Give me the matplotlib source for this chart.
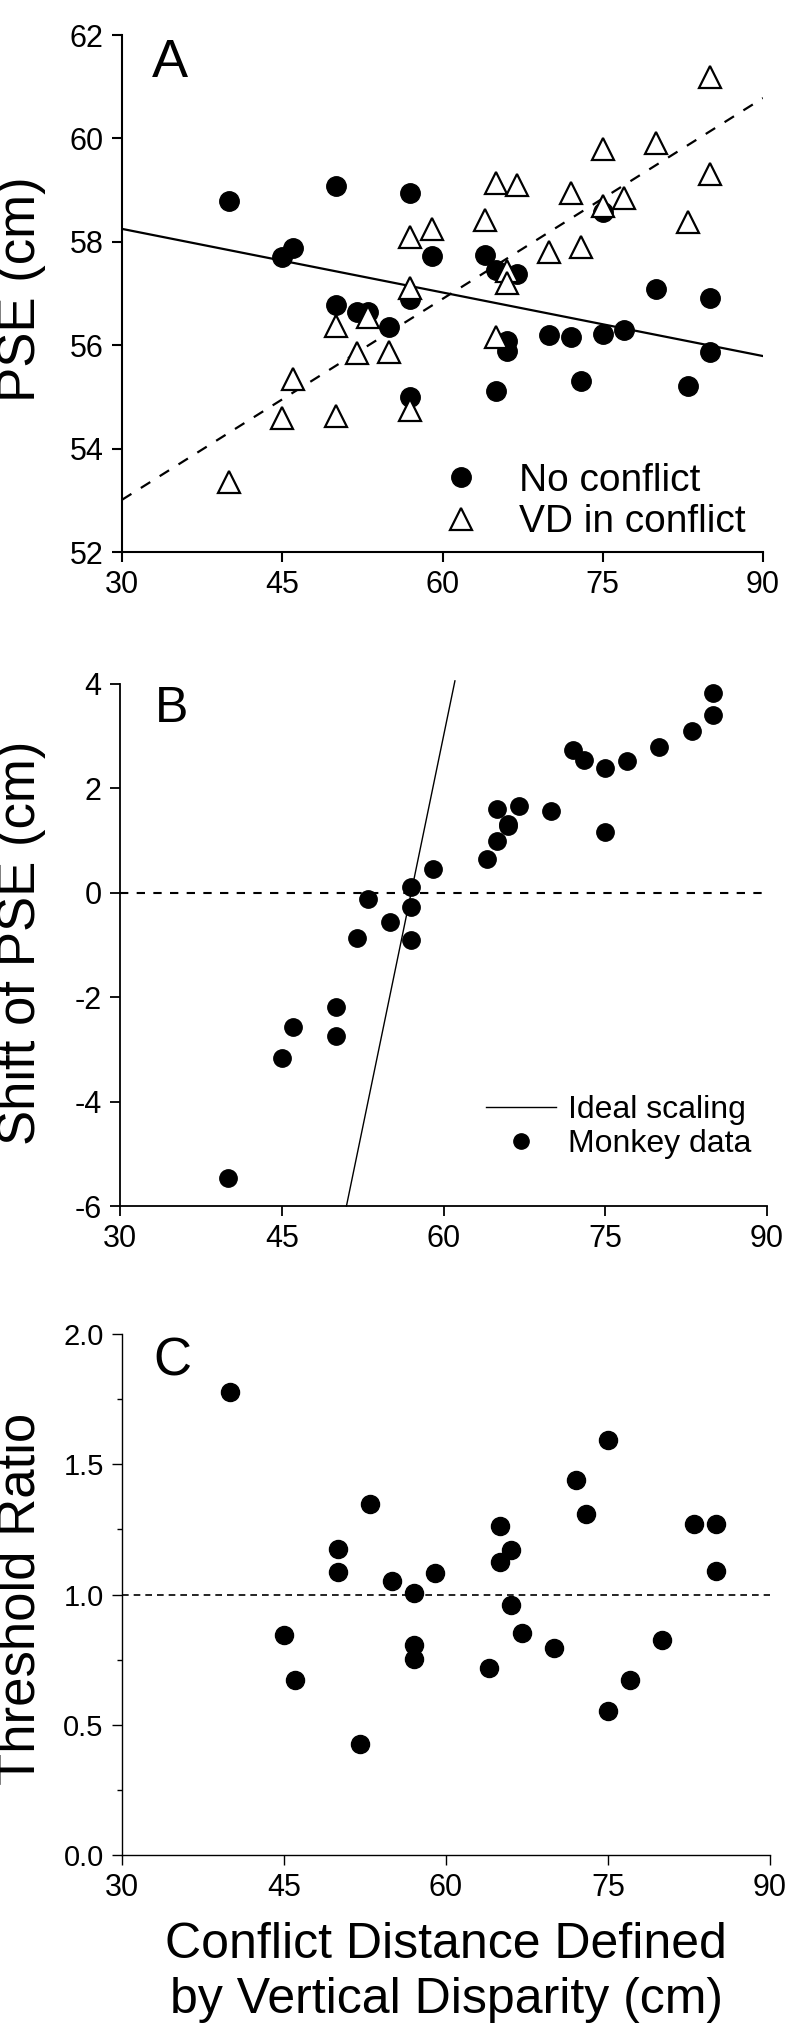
import numpy as np
import matplotlib
matplotlib.use('Agg')
import matplotlib.pyplot as plt
from matplotlib.lines import Line2D
from matplotlib.ticker import MultipleLocator

plt.rcParams['font.family'] = ['Liberation Sans', 'DejaVu Sans']
plt.rcParams['axes.unicode_minus'] = False

# ---------------- Panel A: PSE ----------------
nc_x = [40, 45, 46, 50, 50, 52, 53, 55, 57, 57, 57, 59, 64, 65, 65, 66, 66, 67,
        70, 72, 73, 75, 75, 77, 80, 83, 85, 85]
nc_pse = [58.79, 57.70, 57.88, 59.07, 56.78, 56.64, 56.64, 56.35, 58.95, 56.90,
          55.00, 57.72, 57.74, 57.45, 55.11, 56.09, 55.88, 57.38, 56.19, 56.16,
          55.30, 58.58, 56.22, 56.29, 57.08, 55.22, 56.92, 55.87]
vd_x = [40, 45, 46, 50, 50, 52, 53, 55, 57, 57, 57, 59, 64, 65, 65, 66, 66, 67,
        70, 72, 73, 75, 75, 77, 80, 83, 85, 85]
vd_pse = [53.35, 54.60, 55.34, 54.63, 56.37, 55.85, 56.54, 55.87, 54.75, 57.10,
          58.09, 58.24, 58.43, 59.14, 56.16, 57.44, 57.21, 59.10, 57.81, 58.94,
          57.90, 59.79, 58.70, 58.85, 59.92, 58.38, 61.18, 59.31]
nc_fit_slope, nc_fit_intercept = -0.0410, 59.48
vd_fit_slope, vd_fit_intercept = 0.1295, 49.125

# ---------------- Panel B: shift of PSE ----------------
shift_x = [40, 45, 46, 50, 50, 52, 53, 55, 57, 57, 57, 59, 64, 65, 65, 66, 66, 67,
           70, 72, 73, 75, 75, 77, 80, 83, 85, 85]
shift_y = [-5.46, -3.17, -2.58, -2.18, -2.75, -0.86, -0.12, -0.55, 0.12, -0.28,
           -0.90, 0.45, 0.64, 1.00, 1.61, 1.28, 1.32, 1.67, 1.56, 2.73, 2.55,
           2.40, 1.17, 2.52, 2.80, 3.10, 3.82, 3.40]
ideal_zero_x = 57.0      # conflict distance with zero shift
ideal_slope = 1.0
ideal_y_range = [-6.0, 4.06]

# ---------------- Panel C: threshold ratio ----------------
ratio_x = [40, 45, 46, 50, 50, 52, 53, 55, 57, 57, 57, 59, 64, 65, 65, 66, 66, 67,
           70, 72, 73, 75, 75, 77, 80, 83, 85, 85]
ratio_y = [1.776, 0.843, 0.670, 1.173, 1.086, 0.426, 1.348, 1.051, 1.006, 0.807,
           0.754, 1.083, 0.719, 1.263, 1.126, 1.171, 0.959, 0.851, 0.794, 1.438,
           1.308, 1.595, 0.554, 0.670, 0.825, 1.271, 1.271, 1.090]

x_ticks = [30, 45, 60, 75, 90]

W, H = 800, 2042
fig = plt.figure(figsize=(W / 100, H / 100), dpi=100)


def ax_rect(x0, x1, y0, y1):
    return [x0 / W, 1 - y1 / H, (x1 - x0) / W, (y1 - y0) / H]


axA = fig.add_axes(ax_rect(122, 763, 35, 552))
axB = fig.add_axes(ax_rect(120, 767, 684, 1206))
axC = fig.add_axes(ax_rect(122, 770, 1334, 1855))

for ax, lw in ((axA, 1.5), (axB, 1.3), (axC, 1.0)):
    ax.spines['top'].set_visible(False)
    ax.spines['right'].set_visible(False)
    ax.spines['left'].set_linewidth(lw)
    ax.spines['bottom'].set_linewidth(lw)
    ax.tick_params(direction='out', length=7.2, width=lw, labelsize=22, pad=6)
    ax.set_xlim(30, 90)
    ax.set_xticks(x_ticks)

# ---- A ----
fx = np.array([30, 90])
axA.plot(fx, nc_fit_intercept + nc_fit_slope * fx, color='black', lw=1.6, zorder=2)
axA.plot(fx, vd_fit_intercept + vd_fit_slope * fx, color='black', lw=1.6,
         ls=(0, (5, 5)), zorder=2)
axA.plot(nc_x, nc_pse, 'o', color='black', ms=14, ls='none', zorder=3)
axA.plot(vd_x, vd_pse, '^', mfc='white', mec='black', mew=1.6, ms=16, ls='none', zorder=4)
axA.set_ylim(52, 62)
axA.set_yticks([52, 54, 56, 58, 60, 62])
hA = [Line2D([], [], marker='o', color='black', ms=14, ls='none'),
      Line2D([], [], marker='^', mfc='white', mec='black', mew=1.6, ms=16, ls='none')]
axA.legend(hA, ['No conflict', 'VD in conflict'], loc='center left',
           bbox_to_anchor=(442 / W, 1 - 501.5 / H), bbox_transform=fig.transFigure,
           frameon=False, fontsize=28, handlelength=1.0, handletextpad=0.97,
           labelspacing=0.15, borderpad=0, borderaxespad=0)
fig.text(152 / W, 1 - 77 / H, 'A', fontsize=39, va='baseline', ha='left')
axA.set_ylabel('PSE (cm)', fontsize=38, va='center')
axA.yaxis.set_label_coords(21 / W, 1 - 289 / H, transform=fig.transFigure)

# ---- B ----
axB.axhline(0, color='black', lw=1.5, ls=(0, (4, 4)), zorder=1)
iy = np.array(ideal_y_range)
axB.plot(ideal_zero_x + iy / ideal_slope, iy, color='black', lw=1.0, clip_on=False, zorder=2)
axB.plot(shift_x, shift_y, 'o', color='black', ms=12.5, ls='none', zorder=3)
axB.set_ylim(-6, 4)
axB.set_yticks([-6, -4, -2, 0, 2, 4])
hB = [Line2D([], [], color='black', lw=1.0),
      Line2D([], [], marker='o', color='black', ms=11, ls='none')]
axB.legend(hB, ['Ideal scaling', 'Monkey data'], loc='center left',
           bbox_to_anchor=(486 / W, 1 - 1127 / H), bbox_transform=fig.transFigure,
           frameon=False, fontsize=23, handlelength=2.2, handletextpad=0.38,
           labelspacing=0.13, borderpad=0, borderaxespad=0)
fig.text(155 / W, 1 - 722 / H, 'B', fontsize=36, va='baseline', ha='left')
axB.set_ylabel('Shift of PSE (cm)', fontsize=38, va='center')
axB.yaxis.set_label_coords(21 / W, 1 - 943 / H, transform=fig.transFigure)

# ---- C ----
axC.axhline(1.0, color='black', lw=1.2, ls=(0, (4, 3)), zorder=1)
axC.plot(ratio_x, ratio_y, 'o', color='black', ms=13, ls='none', zorder=3)
axC.set_ylim(0, 2)
axC.set_yticks([0.0, 0.5, 1.0, 1.5, 2.0])
axC.set_yticklabels(['0.0', '0.5', '1.0', '1.5', '2.0'])
axC.yaxis.set_minor_locator(MultipleLocator(0.25))
axC.tick_params(axis='y', which='minor', direction='out', length=3.5, width=1.0)
axC.tick_params(axis='y', which='major', labelsize=21)
fig.text(153 / W, 1 - 1376 / H, 'C', fontsize=38, va='baseline', ha='left')
axC.set_ylabel('Threshold Ratio', fontsize=38, va='center')
axC.yaxis.set_label_coords(21 / W, 1 - 1599 / H, transform=fig.transFigure)
axC.set_xlabel('Conflict Distance Defined\nby Vertical Disparity (cm)', fontsize=36,
               linespacing=1.25)
axC.xaxis.set_label_coords(446 / W, 1 - 1922 / H, transform=fig.transFigure)

fig.savefig('out.png', dpi=100)
